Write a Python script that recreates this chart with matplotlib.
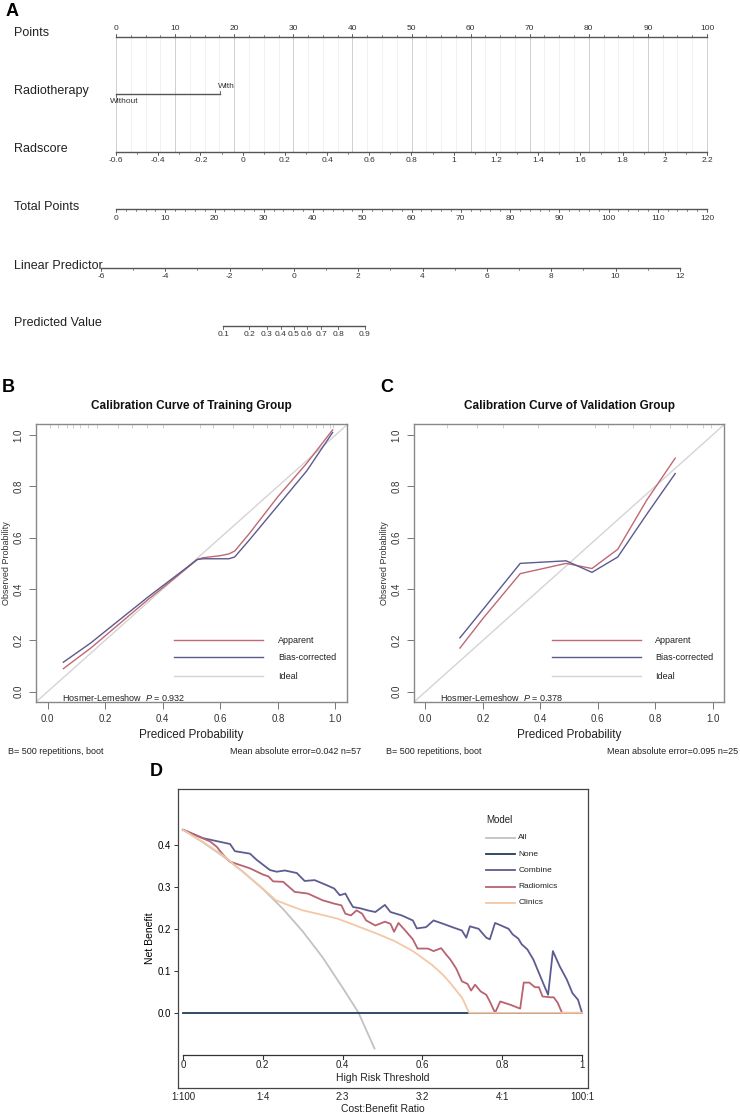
import matplotlib.pyplot as plt
import numpy as np

plt.rcParams['font.family'] = ['Liberation Sans', 'DejaVu Sans']
plt.rcParams['mathtext.fontset'] = 'custom'
plt.rcParams['mathtext.rm'] = 'Liberation Sans'
plt.rcParams['mathtext.it'] = 'Liberation Sans:italic'

W, H = 740, 1113
fig = plt.figure(figsize=(W / 100, H / 100), dpi=100)


def fx(px):
    return px / W


def fy(py):
    return 1 - py / H


# ---------------- data ----------------
# A: nomogram
row_names = ['Points', 'Radiotherapy', 'Radscore', 'Total Points',
             'Linear Predictor', 'Predicted Value']
points_ticks = list(range(0, 101, 10))
radio_levels = ['Without', 'With']
radio_points = [0, 17.6]
radscore_min, radscore_max = -0.6, 2.2
radscore_ticks = [-0.6, -0.4, -0.2, 0, 0.2, 0.4, 0.6, 0.8, 1, 1.2, 1.4, 1.6, 1.8, 2, 2.2]
total_max = 120
total_ticks = list(range(0, 121, 10))
lp_ticks = list(range(-6, 13, 2))
lp_at_zero_total = -5.53
lp_per_total_point = 0.1531
pred_ticks = [0.1, 0.2, 0.3, 0.4, 0.5, 0.6, 0.7, 0.8, 0.9]

# B: calibration, training group
train_x = [0.055, 0.15, 0.25, 0.35, 0.45, 0.52, 0.54, 0.60, 0.63, 0.65, 0.70, 0.80, 0.90, 0.99]
train_apparent = [0.09, 0.17, 0.265, 0.36, 0.45, 0.515, 0.522, 0.530, 0.537, 0.548, 0.615, 0.76, 0.89, 1.02]
train_bias = [0.115, 0.19, 0.28, 0.37, 0.455, 0.515, 0.518, 0.518, 0.518, 0.525, 0.59, 0.725, 0.86, 1.01]
train_rug = [0.009, 0.038, 0.067, 0.09, 0.113, 0.142, 0.171, 0.246, 0.292, 0.344, 0.402,
             0.53, 0.576, 0.645, 0.715, 0.761, 0.807, 0.853, 0.9, 0.934, 0.958, 0.98, 0.992]
train_hl_p = '0.932'
train_mae, train_n = '0.042', 57

# C: calibration, validation group
valid_x = [0.12, 0.20, 0.33, 0.49, 0.58, 0.67, 0.77, 0.87]
valid_apparent = [0.17, 0.285, 0.46, 0.50, 0.48, 0.555, 0.745, 0.91]
valid_bias = [0.21, 0.32, 0.50, 0.51, 0.465, 0.525, 0.69, 0.85]
valid_rug = [0.074, 0.178, 0.271, 0.393, 0.59, 0.637, 0.724, 0.782, 0.852, 0.91, 0.968, 0.995]
valid_hl_p = '0.378'
valid_mae, valid_n = '0.095', 25

# D: decision curve
model_names = ['All', 'None', 'Combine', 'Radiomics', 'Clinics']
all_x = [0, 0.05, 0.10, 0.15, 0.20, 0.25, 0.30, 0.35, 0.40, 0.44, 0.48]
all_y = [0.436, 0.406, 0.373, 0.336, 0.295, 0.248, 0.194, 0.132, 0.060, 0.0, -0.085]
none_x = [0, 1]
none_y = [0, 0]
combine_x = [0.000, 0.050, 0.118, 0.130, 0.168, 0.185, 0.218, 0.235, 0.255, 0.285, 0.305,
             0.330, 0.360, 0.379, 0.393, 0.407, 0.416, 0.426, 0.444, 0.463, 0.482, 0.506,
             0.520, 0.548, 0.576, 0.586, 0.609, 0.628, 0.652, 0.675, 0.699, 0.710, 0.719,
             0.741, 0.760, 0.769, 0.782, 0.797, 0.816, 0.826, 0.840, 0.849, 0.863, 0.878,
             0.892, 0.906, 0.915, 0.927, 0.944, 0.962, 0.976, 0.990, 1.000]
combine_y = [0.436, 0.416, 0.402, 0.385, 0.379, 0.364, 0.340, 0.336, 0.339, 0.333, 0.314,
             0.316, 0.304, 0.296, 0.280, 0.284, 0.268, 0.252, 0.249, 0.244, 0.240, 0.257,
             0.240, 0.232, 0.220, 0.201, 0.204, 0.220, 0.212, 0.204, 0.196, 0.179, 0.206,
             0.200, 0.179, 0.175, 0.214, 0.208, 0.200, 0.187, 0.177, 0.163, 0.151, 0.127,
             0.095, 0.063, 0.043, 0.147, 0.111, 0.079, 0.047, 0.031, 0.000]
radiomics_x = [0.000, 0.068, 0.085, 0.093, 0.105, 0.118, 0.168, 0.201, 0.214, 0.226, 0.251,
               0.280, 0.313, 0.350, 0.379, 0.397, 0.407, 0.421, 0.435, 0.449, 0.459, 0.482,
               0.506, 0.520, 0.529, 0.540, 0.557, 0.576, 0.588, 0.614, 0.628, 0.647, 0.661,
               0.670, 0.685, 0.699, 0.713, 0.722, 0.732, 0.746, 0.760, 0.769, 0.782, 0.795,
               0.821, 0.845, 0.854, 0.868, 0.882, 0.892, 0.901, 0.920, 0.929, 0.939, 0.950, 1.000]
radiomics_y = [0.436, 0.408, 0.395, 0.385, 0.372, 0.360, 0.344, 0.329, 0.325, 0.313, 0.312,
               0.288, 0.284, 0.268, 0.260, 0.256, 0.236, 0.232, 0.244, 0.236, 0.220, 0.208,
               0.217, 0.212, 0.193, 0.214, 0.196, 0.175, 0.153, 0.153, 0.147, 0.154, 0.137,
               0.127, 0.105, 0.075, 0.069, 0.053, 0.067, 0.051, 0.043, 0.027, 0.000, 0.027,
               0.019, 0.010, 0.072, 0.072, 0.061, 0.061, 0.039, 0.037, 0.037, 0.024, 0.000, 0.000]
clinics_x = [0.000, 0.05, 0.10, 0.15, 0.20, 0.233, 0.26, 0.30, 0.35, 0.388, 0.43, 0.482,
             0.530, 0.576, 0.623, 0.650, 0.670, 0.700, 0.717, 1.000]
clinics_y = [0.436, 0.407, 0.375, 0.336, 0.296, 0.268, 0.258, 0.244, 0.233, 0.224, 0.209,
             0.190, 0.171, 0.147, 0.115, 0.092, 0.071, 0.035, 0.000, 0.000]
threshold_ticks = [0, 0.2, 0.4, 0.6, 0.8, 1]
threshold_labels = ['0', '0.2', '0.4', '0.6', '0.8', '1']
cost_benefit_labels = ['1:100', '1:4', '2:3', '3:2', '4:1', '100:1']

# ---------------- A ----------------
axis_c = '#555555'
ax = fig.add_axes([0, fy(345), 1, 345 / H])
ax.set_xlim(0, W)
ax.set_ylim(345, 0)
ax.axis('off')

x0, x100 = 116, 707


def pts_px(p):
    return x0 + np.asarray(p, dtype=float) * (x100 - x0) / 100


def radscore_px(r):
    return pts_px((np.asarray(r) - radscore_min) / (radscore_max - radscore_min) * 100)


def total_px(t):
    return pts_px(np.asarray(t, dtype=float) * 100 / total_max)


def lp_px(lp):
    return total_px((np.asarray(lp, dtype=float) - lp_at_zero_total) / lp_per_total_point)


def pred_px(p):
    p = np.asarray(p, dtype=float)
    return lp_px(np.log(p / (1 - p)))


row_y = [33, 91, 149, 207, 266, 323]
line_y = [37, 94, 152, 209, 268, 326]
for name, y in zip(row_names, row_y):
    ax.text(14, y, name, fontsize=9, va='center', ha='left', color='#222222')

# grid lines hanging from the Points scale
for p in np.arange(0, 100.1, 2.5):
    major = p % 10 == 0
    ax.plot([pts_px(p)] * 2, [line_y[0], line_y[2]],
            color='#cfcfcf' if major else '#ebebeb', lw=0.7 if major else 0.5, zorder=0)


def scale_row(y, xs, labels, minor_xs, above=False, fs=6):
    allx = list(xs) + list(minor_xs)
    ax.plot([min(allx), max(allx)], [y, y], color=axis_c, lw=1.0)
    s = -1 if above else 1
    for xm in minor_xs:
        ax.plot([xm, xm], [y, y + s * 1.8], color=axis_c, lw=0.5)
    for xt, lab in zip(xs, labels):
        ax.plot([xt, xt], [y, y + s * 3], color=axis_c, lw=0.6)
        ax.text(xt, y + s * 5.5, lab, fontsize=fs, ha='center',
                va='bottom' if above else 'top', color='#333333')


scale_row(line_y[0], pts_px(points_ticks), [str(v) for v in points_ticks],
          pts_px(np.arange(0, 100.1, 2.5)), above=True)

# Radiotherapy
rx = pts_px(radio_points)
ax.plot(rx, [line_y[1]] * 2, color=axis_c, lw=1.0)
ax.plot([rx[1]] * 2, [line_y[1], line_y[1] - 3], color=axis_c, lw=0.6)
ax.plot([rx[0]] * 2, [line_y[1], line_y[1] + 3], color=axis_c, lw=0.6)
ax.text(rx[0] + 8, line_y[1] + 4, radio_levels[0], fontsize=6, ha='center', va='top', color='#333333')
ax.text(rx[1] + 6, line_y[1] - 4, radio_levels[1], fontsize=6, ha='center', va='bottom', color='#333333')

scale_row(line_y[2], radscore_px(radscore_ticks), [f'{v:g}' for v in radscore_ticks],
          radscore_px(np.arange(-0.6, 2.21, 0.1)))
scale_row(line_y[3], total_px(total_ticks), [str(v) for v in total_ticks],
          total_px(np.arange(0, 121, 2)))
scale_row(line_y[4], lp_px(lp_ticks), [str(v) for v in lp_ticks],
          lp_px(np.arange(-6, 12.1, 1)))
scale_row(line_y[5], pred_px(pred_ticks), [f'{v:g}' for v in pred_ticks], [])

fig.text(fx(6), fy(12), 'A', fontsize=13, fontweight='bold', va='center', ha='left')

# ---------------- B / C ----------------
app_c = '#c06872'
bias_c = '#5a5a8e'
ideal_c = '#d4d4d4'


def calib(left, right, xs, app, bias, rug, hl_p, mae, n, title, letter):
    a = fig.add_axes([fx(left), fy(702), fx(right) - fx(left), (702 - 424) / H])
    a.plot([-0.1, 1.1], [-0.1, 1.1], color=ideal_c, lw=1.0)
    a.plot(xs, app, color=app_c, lw=1.0)
    a.plot(xs, bias, color=bias_c, lw=1.0)
    a.vlines(rug, 1.028, 1.043, color='#c8c8c8', lw=0.6)
    a.set_xlim(-0.04, 1.04)
    a.set_ylim(-0.04, 1.043)
    ticks = [0, 0.2, 0.4, 0.6, 0.8, 1.0]
    a.set_xticks(ticks, [f'{t:.1f}' for t in ticks])
    a.set_yticks(ticks, [f'{t:.1f}' for t in ticks], rotation=90, va='center')
    a.tick_params(length=5, width=0.7, color='#777777', labelsize=7, labelcolor='#333333', pad=4)
    for sp in a.spines.values():
        sp.set_color('#888888')
        sp.set_linewidth(1.0)
    a.set_xlabel('Prediced Probability', fontsize=8.5, labelpad=3, color='#222222')
    a.set_ylabel('Observed Probability', fontsize=6.5, labelpad=2, color='#333333')
    for lab, col, yy in zip(['Apparent', 'Bias-corrected', 'Ideal'],
                            [app_c, bias_c, ideal_c], [0.201, 0.135, 0.061]):
        a.plot([0.44, 0.75], [yy, yy], color=col, lw=1.0)
        a.text(0.80, yy, lab, fontsize=6.5, va='center', color='#222222')
    a.text(0.05, -0.021, 'Hosmer-Lemeshow  $P$ = ' + hl_p, fontsize=6.5, va='center', color='#222222')
    fig.text(fx(left - 28), fy(752), 'B= 500 repetitions, boot', fontsize=6.5, va='center', color='#222222')
    fig.text(fx(right + 14), fy(752), f'Mean absolute error={mae} n={n}', fontsize=6.5,
             va='center', ha='right', color='#222222')
    fig.text(fx((left + right) / 2), fy(406), title, fontsize=8.5, fontweight='bold',
             ha='center', va='center', color='#111111')
    fig.text(fx(left - 34), fy(387), letter, fontsize=13, fontweight='bold', va='center', ha='left')
    return a


calib(36, 347, train_x, train_apparent, train_bias, train_rug, train_hl_p, train_mae, train_n,
      'Calibration Curve of Training Group', 'B')
calib(414, 724, valid_x, valid_apparent, valid_bias, valid_rug, valid_hl_p, valid_mae, valid_n,
      'Calibration Curve of Validation Group', 'C')

# ---------------- D ----------------
all_c = '#c2c2c2'
none_c = '#1f3c5c'
combine_c = '#5d5c92'
radiomics_c = '#b8636f'
clinics_c = '#f3c8a6'
colors = [all_c, none_c, combine_c, radiomics_c, clinics_c]

ad = fig.add_axes([fx(178), fy(1088), fx(588) - fx(178), (1088 - 789) / H])
ad.set_xlim(-0.0125, 1.015)
ad.set_ylim(-0.179, 0.533)
ad.plot(all_x, all_y, color=all_c, lw=1.3)
ad.plot(none_x, none_y, color=none_c, lw=1.3)
ad.plot(combine_x, combine_y, color=combine_c, lw=1.3)
ad.plot(radiomics_x, radiomics_y, color=radiomics_c, lw=1.3)
ad.plot(clinics_x, clinics_y, color=clinics_c, lw=1.3)

for sp in ad.spines.values():
    sp.set_color('#444444')
    sp.set_linewidth(0.9)
ad.set_xticks([])
ad.set_yticks([0, 0.1, 0.2, 0.3, 0.4], ['0.0', '0.1', '0.2', '0.3', '0.4'])
ad.tick_params(axis='y', length=3, width=0.7, labelsize=7, pad=2, color='#333333')
ad.set_ylabel('Net Benefit', fontsize=7.5, labelpad=2)

# threshold axis drawn inside the box
ad.plot([0, 1], [-0.1, -0.1], color='#333333', lw=0.9)
for t, lab, cb in zip(threshold_ticks, threshold_labels, cost_benefit_labels):
    ad.plot([t, t], [-0.1, -0.1095], color='#333333', lw=0.8)
    ad.text(t, -0.124, lab, fontsize=7, ha='center', va='center', color='#222222')
    ad.text(t, -0.20, cb, fontsize=7, ha='center', va='center', color='#222222', clip_on=False)
ad.text(0.5, -0.155, 'High Risk Threshold', fontsize=7.5, ha='center', va='center', color='#222222')
ad.text(0.5, -0.2286, 'Cost:Benefit Ratio', fontsize=7.5, ha='center', va='center',
        color='#222222', clip_on=False)

# legend
ad.text(0.76, 0.46, 'Model', fontsize=7, va='center', color='#222222')
for i, (name, col) in enumerate(zip(model_names, colors)):
    yy = 0.417 - i * 0.0388
    ad.plot([0.76, 0.832], [yy, yy], color=col, lw=1.3)
    ad.text(0.84, yy, name, fontsize=6, va='center', color='#222222')

fig.text(fx(150), fy(772), 'D', fontsize=13, fontweight='bold', va='center', ha='left')

fig.savefig('out.png', dpi=100)
